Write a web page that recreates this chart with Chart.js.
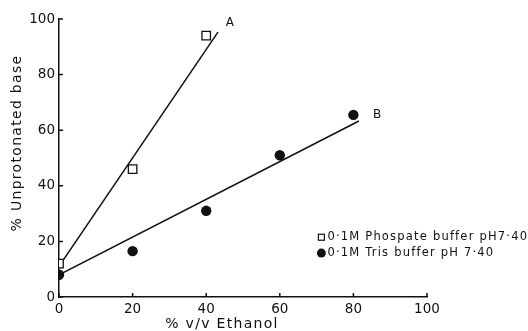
<!DOCTYPE html>
<html>
<head>
<meta charset="utf-8">
<script src="https://cdn.jsdelivr.net/npm/chart.js@4.4.1/dist/chart.umd.min.js"></script>
<style>
  html, body { margin: 0; padding: 0; background: #fff; }
  #wrap { width: 528px; height: 331px; }
</style>
</head>
<body>
<div id="wrap"><canvas id="chart" width="528" height="331"></canvas></div>
<script>
// измерения: % этанола и доля непротонированного основания
const ethanolPhosphate = [0, 20, 40];
const basePhosphate = [12, 46, 94];
const ethanolTris = [0, 20, 40, 60, 80];
const baseTris = [8, 16.5, 31, 51, 65.5];

// прямые регрессии A и B (концы отрезков)
const lineAx = [0, 43.2];
const lineAy = [11, 95.3];
const lineBx = [0, 81.5];
const lineBy = [8, 63.3];

const xTicks = [0, 20, 40, 60, 80, 100];
const yTicks = [0, 20, 40, 60, 80, 100];

const legendLabels = ['0·1M Phospate buffer pH7·40', '0·1M Tris buffer pH 7·40'];
const FONT = '"DejaVu Sans", sans-serif';
const INK = '#111';

const toPoints = (xs, ys) => xs.map((x, i) => ({ x, y: ys[i] }));

// подписи, засечки внутрь, легенда и названия осей
const decorPlugin = {
  id: 'decor',
  afterDraw(chart) {
    const ctx = chart.ctx;
    const xs = chart.scales.x, ys = chart.scales.y;
    const area = chart.chartArea;
    ctx.save();
    ctx.strokeStyle = INK;
    ctx.lineWidth = 1.5;
    // засечки внутрь
    ctx.beginPath();
    yTicks.forEach(v => {
      const py = ys.getPixelForValue(v);
      ctx.moveTo(area.left, py);
      ctx.lineTo(area.left + 4, py);
    });
    xTicks.forEach(v => {
      const px = xs.getPixelForValue(v);
      ctx.moveTo(px, area.bottom);
      ctx.lineTo(px, area.bottom - 4);
    });
    ctx.stroke();

    ctx.fillStyle = INK;
    ctx.textBaseline = 'middle';
    ctx.textAlign = 'left';
    ctx.font = '12px ' + FONT;
    ctx.fillText('A', xs.getPixelForValue(45.3), ys.getPixelForValue(98.5));
    ctx.fillText('B', xs.getPixelForValue(85.3), ys.getPixelForValue(65.5));

    // легенда
    const lx = xs.getPixelForValue(71.3);
    const ly1 = ys.getPixelForValue(21.5);
    const ly2 = ys.getPixelForValue(15.8);
    ctx.lineWidth = 1.2;
    ctx.fillStyle = '#fff';
    ctx.fillRect(lx - 3, ly1 - 3, 6, 6);
    ctx.strokeRect(lx - 3, ly1 - 3, 6, 6);
    ctx.fillStyle = INK;
    ctx.beginPath();
    ctx.arc(lx, ly2, 4.5, 0, Math.PI * 2);
    ctx.fill();
    ctx.font = '11.5px ' + FONT;
    ctx.letterSpacing = '1.2px';
    ctx.fillText(legendLabels[0], lx + 6, ly1);
    ctx.fillText(legendLabels[1], lx + 6, ly2);

    // названия осей
    ctx.font = '14px ' + FONT;
    ctx.letterSpacing = '1.3px';
    ctx.textAlign = 'center';
    ctx.fillText('% v/v Ethanol', 222, 324);
    ctx.translate(17, 143);
    ctx.rotate(-Math.PI / 2);
    ctx.fillText('% Unprotonated base', 0, 0);
    ctx.restore();
  }
};

const axisCommon = {
  type: 'linear',
  min: 0,
  max: 100,
  grid: { display: false, drawTicks: false },
  border: { display: true, color: INK, width: 1.5 },
  ticks: {
    stepSize: 20,
    color: INK,
    font: { family: FONT, size: 13.5 },
    maxRotation: 0
  }
};

new Chart(document.getElementById('chart'), {
  type: 'scatter',
  data: {
    datasets: [
      {
        label: 'A',
        data: toPoints(lineAx, lineAy),
        showLine: true,
        borderColor: INK,
        borderWidth: 1.5,
        pointRadius: 0,
        order: 3
      },
      {
        label: 'B',
        data: toPoints(lineBx, lineBy),
        showLine: true,
        borderColor: INK,
        borderWidth: 1.5,
        pointRadius: 0,
        order: 3
      },
      {
        label: legendLabels[0],
        data: toPoints(ethanolPhosphate, basePhosphate),
        pointStyle: 'rect',
        pointRadius: 6,
        backgroundColor: '#fff',
        borderColor: INK,
        borderWidth: 1.3,
        order: 1
      },
      {
        label: legendLabels[1],
        data: toPoints(ethanolTris, baseTris),
        pointStyle: 'circle',
        pointRadius: 5.2,
        backgroundColor: INK,
        borderColor: INK,
        borderWidth: 0,
        order: 2
      }
    ]
  },
  options: {
    responsive: false,
    animation: false,
    layout: { padding: { top: 19, right: 101, left: 0, bottom: 0 } },
    plugins: {
      legend: { display: false },
      tooltip: { enabled: false }
    },
    scales: {
      x: Object.assign({}, axisCommon, {
        ticks: Object.assign({}, axisCommon.ticks, { padding: 4 }),
        afterFit(scale) { scale.height = 34; }
      }),
      y: Object.assign({}, axisCommon, {
        ticks: Object.assign({}, axisCommon.ticks, { padding: 4 }),
        afterFit(scale) { scale.width = 59; }
      })
    }
  },
  plugins: [decorPlugin]
});
</script>
</body>
</html>
